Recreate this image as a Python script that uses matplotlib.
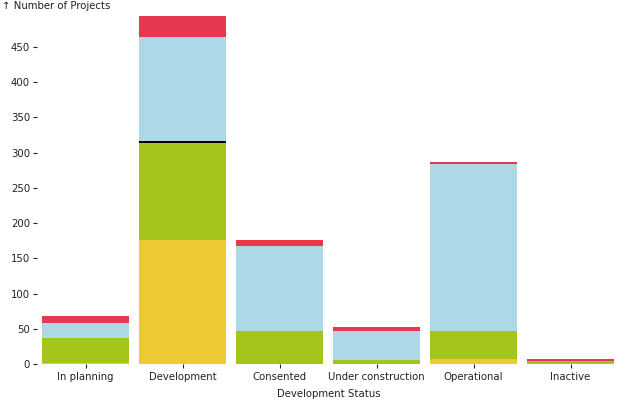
import matplotlib.pyplot as plt
import numpy as np

statuses = ["In planning", "Development", "Consented", "Under construction", "Operational", "Inactive"]

# stacked segments, bottom to top
series_yellow = [2, 176, 0, 0, 7, 0]
series_green = [35, 138, 47, 5, 40, 4]
series_black = [0, 3, 0, 0, 0, 0]
series_blue = [21, 147, 121, 42, 237, 0]
series_red = [10, 30, 8, 5, 3, 3]

series = [series_yellow, series_green, series_black, series_blue, series_red]
colors = ["#ecca34", "#a4c51b", "#000000", "#add8e6", "#e63950"]

plt.rcParams['font.family'] = ['DejaVu Sans']

fig = plt.figure(figsize=(6.4, 4.0), dpi=100)
ax = fig.add_axes([37 / 640, 36 / 400, 582 / 640, 348 / 400])

x = np.arange(len(statuses))
bottom = np.zeros(len(statuses))
for vals, c in zip(series, colors):
    ax.bar(x, vals, bottom=bottom, width=0.897, color=c, linewidth=0)
    bottom += np.array(vals)

ax.set_xlim(-0.5, len(statuses) - 0.5)
ax.set_ylim(0, bottom.max())

for s in ax.spines.values():
    s.set_visible(False)

ax.set_yticks(np.arange(0, 451, 50))
ax.set_xticks(x)
ax.set_xticklabels(statuses)
ax.tick_params(axis='both', length=3, width=0.8, labelsize=7.3, colors='#222222', pad=2)
ax.tick_params(axis='x', pad=3)

fig.text(2 / 640, 1 - 6 / 400, "\u2191 Number of Projects", fontsize=7.3, ha='left', va='center', color='#222222')
fig.text(329 / 640, 1 - 394 / 400, "Development Status", fontsize=7.3, ha='center', va='center', color='#222222')

plt.savefig("out.png", dpi=100)
plt.close()
